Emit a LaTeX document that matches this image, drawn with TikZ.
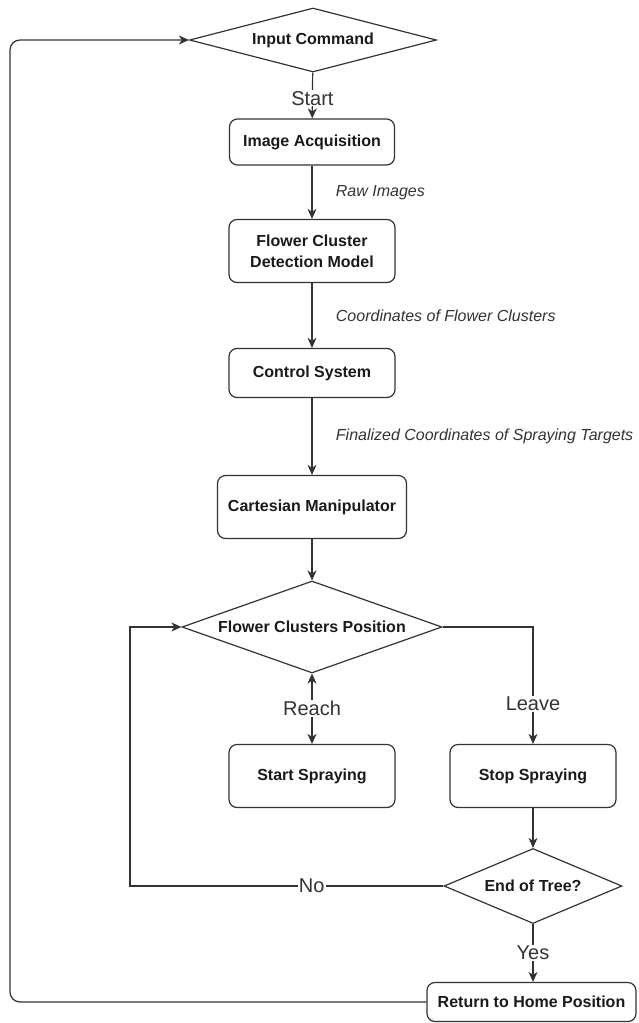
\documentclass[tikz,border=0pt]{standalone}
\usepackage{fontspec}
\setmainfont{Liberation Sans}
\usetikzlibrary{shapes.geometric,arrows.meta}
\definecolor{lncol}{HTML}{333333}
\definecolor{txcol}{HTML}{1A1A1A}
\begin{document}
\begin{tikzpicture}[x=1pt,y=-1pt,
  box/.style={draw=lncol,line width=1.2pt,rounded corners=8pt,fill=white,align=center,
    font=\fontsize{16}{21}\selectfont\bfseries,text=txcol,inner sep=0pt},
  dia/.style={draw=lncol,line width=1.2pt,diamond,fill=white,
    font=\fontsize{16}{21}\selectfont\bfseries,text=txcol,inner sep=0pt},
  conn/.style={draw=lncol,line width=1.2pt,-{Stealth[length=10pt,width=9pt,inset=3pt]}},
  plain/.style={draw=lncol,line width=1.2pt},
  lab/.style={font=\fontsize{20}{24}\selectfont,text=lncol,fill=white,inner sep=1pt},
  ital/.style={font=\fontsize{16}{20}\selectfont\itshape,text=lncol,anchor=west,xshift=20pt}
]
\useasboundingbox (0,0) rectangle (639,1023);
\node[dia,aspect=3.86,minimum width=247pt,minimum height=64pt] (inp) at (313,40) {Input Command};
\node[box,minimum width=165pt,minimum height=46pt] (img) at (312,142) {Image Acquisition};
\node[box,minimum width=166pt,minimum height=63pt] (det) at (312,251) {Flower Cluster\\Detection Model};
\node[box,minimum width=166pt,minimum height=49pt] (ctl) at (312,373) {Control System};
\node[box,minimum width=189pt,minimum height=63pt] (car) at (312,507) {Cartesian Manipulator};
\node[dia,aspect=2.83,minimum width=260pt,minimum height=92pt] (fcp) at (312,627) {Flower Clusters Position};
\node[box,minimum width=166pt,minimum height=63pt] (sts) at (312,776) {Start Spraying};
\node[box,minimum width=166pt,minimum height=63pt] (sps) at (533,776) {Stop Spraying};
\node[dia,aspect=2.37,minimum width=178pt,minimum height=75pt] (eot) at (533,886) {End of Tree?};
\node[box,minimum width=209pt,minimum height=39pt] (ret) at (531.5,1002) {Return to Home Position};
\coordinate (nc) at (130,886);
\coordinate (lb) at (10,1002);
\coordinate (lt) at (10,40);

\draw[conn] (inp) -- node[lab,pos=0.56]{Start} (img);
\draw[conn] (img) -- node[ital]{Raw Images} (det);
\draw[conn] (det) -- node[ital]{Coordinates of Flower Clusters} (ctl);
\draw[conn] (ctl) -- node[ital]{Finalized Coordinates of Spraying Targets} (car);
\draw[conn] (car) -- (fcp);
\draw[plain,{Stealth[length=10pt,width=9pt,inset=3pt]}-{Stealth[length=10pt,width=9pt,inset=3pt]}] (fcp) -- node[lab]{Reach} (sts);
\draw[conn] (fcp.east) -| node[lab,pos=0.83]{Leave} (sps.north);
\draw[conn] (sps) -- (eot);
\draw[conn] (eot.west) -- node[lab,pos=0.42]{No} (nc) |- (fcp.west);
\draw[conn] (eot.south) -- node[lab]{Yes} (eot.south |- ret.north);
\draw[conn,rounded corners=10pt] (ret.west) -- (lb) -- (lt) -- (inp.west);
\end{tikzpicture}
\end{document}
